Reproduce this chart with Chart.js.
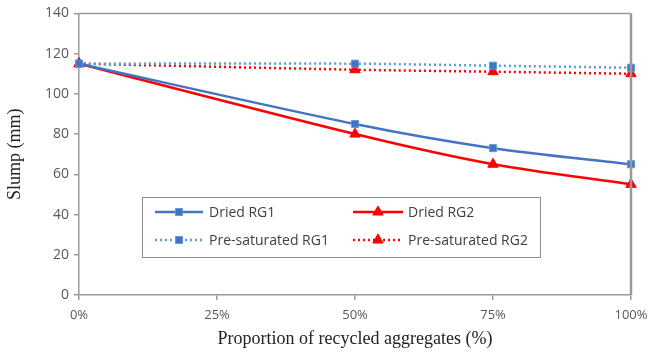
<!DOCTYPE html>
<html lang="en">
<head>
    <meta charset="UTF-8">
    <title>Slump vs recycled aggregates</title>
    <script src="https://cdn.jsdelivr.net/npm/chart.js"></script>
    <style>
        html, body { margin: 0; padding: 0; background: #fff; }
        #wrap { width: 650px; height: 354px; }
    </style>
</head>
<body>
<div id="wrap">
    <canvas id="myChart" width="650" height="354"></canvas>
</div>
<script>
    // proportion of recycled aggregates (%)
    const proportions = [0, 50, 75, 100];
    const driedRG1 = [115, 85, 73, 65];
    const driedRG2 = [115, 80, 65, 55];
    const presatRG1 = [115, 115, 114, 113];
    const presatRG2 = [115, 112, 111, 110];
    const xTicks = [0, 25, 50, 75, 100];
    const yTicks = [0, 20, 40, 60, 80, 100, 120, 140];

    const BLUE = 'rgb(68,114,196)';
    const LIGHTBLUE = 'rgb(91,155,213)';
    const RED = 'rgb(255,0,0)';

    function pts(vals) {
        return vals.map((v, i) => ({x: proportions[i], y: v}));
    }

    // box around the plot + legend inside the plot
    const boxAndLegend = {
        id: 'boxAndLegend',
        afterDraw(chart) {
            const ctx = chart.ctx;
            const a = chart.chartArea;
            ctx.save();
            ctx.strokeStyle = '#9a9a9a';
            ctx.lineWidth = 1.5;
            ctx.beginPath();
            ctx.moveTo(a.left, a.top);
            ctx.lineTo(a.right, a.top);
            ctx.stroke();
            ctx.lineWidth = 2.5;
            ctx.beginPath();
            ctx.moveTo(a.right, a.top);
            ctx.lineTo(a.right, a.bottom);
            ctx.stroke();

            // legend
            ctx.lineWidth = 1;
            ctx.strokeStyle = '#8c8c8c';
            ctx.fillStyle = '#fff';
            ctx.fillRect(142, 197, 398, 60);
            ctx.strokeRect(142.5, 197.5, 398, 60);

            const cols = [{x0: 155, x1: 203, tx: 209}, {x0: 353, x1: 403, tx: 408}];
            const rows = [212, 240];
            chart.data.datasets.forEach((ds, i) => {
                const c = cols[i % 2];
                const y = rows[Math.floor(i / 2)];
                ctx.save();
                ctx.strokeStyle = ds.borderColor;
                ctx.lineWidth = ds.borderWidth;
                ctx.setLineDash(ds.borderDash || []);
                ctx.beginPath();
                ctx.moveTo(c.x0, y);
                ctx.lineTo(c.x1, y);
                ctx.stroke();
                ctx.restore();
                ctx.save();
                ctx.fillStyle = ds.pointBackgroundColor;
                ctx.strokeStyle = ds.pointBorderColor;
                ctx.lineWidth = ds.pointBorderWidth;
                Chart.helpers.drawPoint(ctx, {
                    pointStyle: ds.pointStyle,
                    radius: ds.pointRadius,
                    borderWidth: ds.pointBorderWidth,
                    rotation: 0
                }, (c.x0 + c.x1) / 2, y);
                ctx.restore();
                ctx.fillStyle = '#404040';
                ctx.font = '14px "Open Sans", sans-serif';
                ctx.textBaseline = 'middle';
                ctx.textAlign = 'left';
                ctx.fillText(ds.label, c.tx, y + 1);
            });
            ctx.restore();
        }
    };

    const ctx = document.getElementById('myChart');
    new Chart(ctx, {
        type: 'line',
        data: {
            datasets: [{
                label: 'Dried RG1',
                data: pts(driedRG1),
                borderColor: BLUE,
                borderWidth: 2.5,
                pointStyle: 'rect',
                pointRadius: 5,
                pointBackgroundColor: BLUE,
                pointBorderColor: LIGHTBLUE,
                pointBorderWidth: 1,
                tension: 0.3,
                clip: false
            }, {
                label: 'Dried RG2',
                data: pts(driedRG2),
                borderColor: RED,
                borderWidth: 2.5,
                pointStyle: 'triangle',
                pointRadius: 6,
                pointBackgroundColor: RED,
                pointBorderColor: RED,
                pointBorderWidth: 1,
                tension: 0.3,
                clip: false
            }, {
                label: 'Pre-saturated RG1',
                data: pts(presatRG1),
                borderColor: LIGHTBLUE,
                borderWidth: 2.5,
                borderDash: [2, 3],
                pointStyle: 'rect',
                pointRadius: 5,
                pointBackgroundColor: BLUE,
                pointBorderColor: LIGHTBLUE,
                pointBorderWidth: 1,
                tension: 0.3,
                clip: false
            }, {
                label: 'Pre-saturated RG2',
                data: pts(presatRG2),
                borderColor: RED,
                borderWidth: 2.5,
                borderDash: [2, 3],
                pointStyle: 'triangle',
                pointRadius: 6,
                pointBackgroundColor: RED,
                pointBorderColor: RED,
                pointBorderWidth: 1,
                tension: 0.3,
                clip: false
            }]
        },
        options: {
            responsive: false,
            animation: false,
            layout: {padding: {top: 13, right: 2}},
            plugins: {
                legend: {display: false},
                tooltip: {enabled: false}
            },
            scales: {
                x: {
                    type: 'linear',
                    min: 0,
                    max: 100,
                    afterBuildTicks: (s) => { s.ticks = xTicks.map(v => ({value: v})); },
                    afterFit: (s) => { s.height = 59; s.paddingRight = 19; },
                    ticks: {
                        color: '#595959',
                        font: {family: '"Open Sans", sans-serif', size: 13},
                        padding: 7,
                        callback: (v) => v + '%'
                    },
                    grid: {drawOnChartArea: false, tickLength: 5, color: '#9a9a9a', lineWidth: 1.5},
                    border: {color: '#9a9a9a', width: 1.5},
                    title: {
                        display: true,
                        text: 'Proportion of recycled aggregates (%)',
                        color: '#222',
                        font: {family: '"Liberation Serif", serif', size: 18},
                        padding: {top: 0}
                    }
                },
                y: {
                    min: 0,
                    max: 140,
                    afterBuildTicks: (s) => { s.ticks = yTicks.map(v => ({value: v})); },
                    afterFit: (s) => { s.width = 79; },
                    ticks: {
                        color: '#595959',
                        font: {family: '"Open Sans", sans-serif', size: 14},
                        padding: 5
                    },
                    grid: {drawOnChartArea: false, tickLength: 5, color: '#9a9a9a', lineWidth: 1.5},
                    border: {color: '#9a9a9a', width: 1.5},
                    title: {
                        display: true,
                        text: 'Slump (mm)',
                        color: '#222',
                        font: {family: '"Liberation Serif", serif', size: 18},
                        padding: {bottom: 4}
                    }
                }
            }
        },
        plugins: [boxAndLegend]
    });
</script>
</body>
</html>
